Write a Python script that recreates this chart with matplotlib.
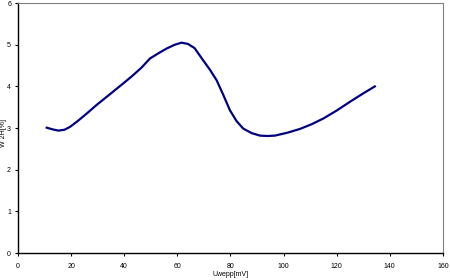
import matplotlib.pyplot as plt

uwepp = [10.8, 13.0, 15.2, 17.5, 19.6, 22.5, 25.9, 29.5, 33.4, 36.5, 39.6, 43.0, 46.5, 49.7,
         53.0, 56.0, 59.0, 61.6, 64.0, 66.5, 69.7, 72.3, 74.8, 77.3, 79.8, 82.3, 84.8, 88.0,
         91.1, 94.0, 96.8, 101.5, 106.2, 110.5, 115.0, 120.0, 125.0, 129.7, 134.4]
w2h = [3.01, 2.97, 2.94, 2.96, 3.03, 3.17, 3.35, 3.55, 3.75, 3.91, 4.07, 4.25, 4.45, 4.67,
       4.80, 4.91, 5.00, 5.05, 5.02, 4.92, 4.63, 4.40, 4.15, 3.80, 3.43, 3.17, 2.99, 2.88,
       2.82, 2.81, 2.82, 2.89, 2.98, 3.09, 3.23, 3.42, 3.63, 3.82, 4.00]

plt.rcParams['font.family'] = ['Liberation Sans', 'DejaVu Sans']
fig = plt.figure(figsize=(4.5, 2.8), dpi=100)
ax = fig.add_axes([0.04, 0.096, 0.944, 0.893])
ax.plot(uwepp, w2h, color='#000080', linewidth=1.6, solid_joinstyle='round')
ax.set_xlim(0, 160)
ax.set_ylim(0, 6)
ax.set_xticks(range(0, 161, 20))
ax.set_yticks(range(0, 7))
ax.tick_params(labelsize=5, length=2, width=0.8, pad=5)
ax.tick_params(axis='y', pad=3)
for s in ['top', 'right']:
    ax.spines[s].set_color('#808080')
    ax.spines[s].set_linewidth(0.8)
for s in ['left', 'bottom']:
    ax.spines[s].set_linewidth(1.0)
ax.set_xlabel('Uwepp[mV]', fontsize=5, labelpad=1)
ax.set_ylabel('W 2H[%]', fontsize=5)
ax.yaxis.set_label_coords(-0.026, 0.48)
fig.savefig('out.png', dpi=100)
